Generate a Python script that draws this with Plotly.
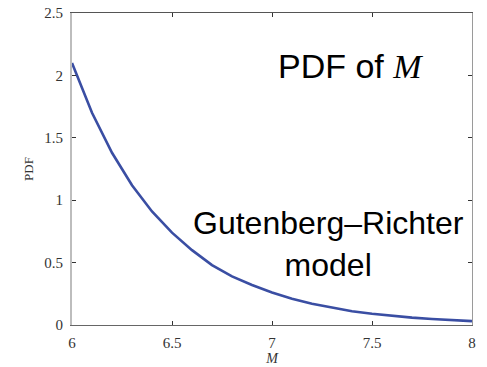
import plotly.graph_objects as go

magnitude = [6.0, 6.1, 6.2, 6.3, 6.4, 6.5, 6.6, 6.7, 6.8, 6.9, 7.0,
             7.1, 7.2, 7.3, 7.4, 7.5, 7.6, 7.7, 7.8, 7.9, 8.0]
pdf = [2.10, 1.70, 1.38, 1.12, 0.91, 0.74, 0.60, 0.48, 0.39, 0.32, 0.26,
       0.21, 0.17, 0.14, 0.11, 0.09, 0.073, 0.059, 0.048, 0.039, 0.031]
x_ticks = [6, 6.5, 7, 7.5, 8]
x_tick_labels = ["6", "6.5", "7", "7.5", "8"]
y_ticks = [0, 0.5, 1, 1.5, 2, 2.5]
y_tick_labels = ["0", "0.5", "1", "1.5", "2", "2.5"]

serif = "Liberation Serif, Times New Roman, serif"
sans = "Liberation Sans, Arial, sans-serif"

fig = go.Figure()
fig.add_trace(go.Scatter(x=magnitude, y=pdf, mode="lines",
                         line=dict(color="#3a4ea3", width=2.6),
                         showlegend=False, hoverinfo="skip"))
# invisible copy on secondary axes so the box frame axes render
fig.add_trace(go.Scatter(x=magnitude, y=pdf, mode="lines", xaxis="x2", yaxis="y2",
                         line=dict(color="rgba(0,0,0,0)", width=0),
                         showlegend=False, hoverinfo="skip"))

common_tick = dict(ticks="inside", ticklen=4, tickwidth=1, tickcolor="#333333",
                   showgrid=False, zeroline=False, automargin=False)

fig.update_layout(
    width=487, height=367,
    margin=dict(l=72, r=15, t=13, b=42),
    paper_bgcolor="white", plot_bgcolor="white",
    xaxis=dict(range=[6, 8], tickvals=x_ticks, ticktext=x_tick_labels,
               showline=True, linecolor="#666666", linewidth=1,
               ticklabelstandoff=4,
               tickfont=dict(family=serif, size=15, color="#333333"),
               title=dict(text="<i>M</i>", font=dict(family=serif, size=14, color="#333333"),
                          standoff=0),
               **common_tick),
    yaxis=dict(range=[0, 2.5], tickvals=y_ticks, ticktext=y_tick_labels,
               showline=True, linecolor="#bdbdbd", linewidth=2,
               ticklabelstandoff=4,
               tickfont=dict(family=serif, size=15, color="#333333"),
               title=dict(text="PDF", font=dict(family=serif, size=13, color="#333333"),
                          standoff=8),
               **common_tick),
    xaxis2=dict(range=[6, 8], tickvals=x_ticks, overlaying="x", side="top",
                showticklabels=False, showline=True, linecolor="#555555", linewidth=1,
                **common_tick),
    yaxis2=dict(range=[0, 2.5], tickvals=y_ticks, overlaying="y", side="right",
                showticklabels=False, showline=True, linecolor="#9a9a9a", linewidth=1,
                **common_tick),
    annotations=[
        dict(x=0.695, y=0.83, xref="paper", yref="paper", xanchor="center", yanchor="middle",
             text="PDF of <i><span style='font-family:Liberation Serif'>M</span></i>",
             showarrow=False, font=dict(family=sans, size=34, color="black")),
        dict(x=0.64, y=0.26, xref="paper", yref="paper", xanchor="center", yanchor="middle",
             text="Gutenberg–Richter<br>model",
             showarrow=False, font=dict(family=sans, size=32, color="black")),
    ],
)

fig.write_html("out.html")
